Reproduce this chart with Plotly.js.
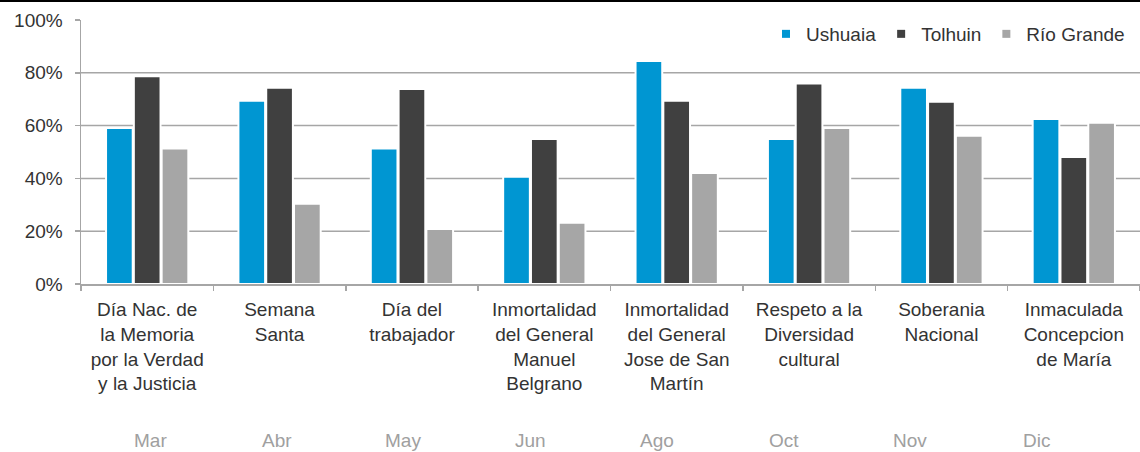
<!DOCTYPE html>
<html><head><meta charset="utf-8">
<script src="https://cdn.plot.ly/plotly-3.0.1.min.js"></script>
<style>
html,body{margin:0;padding:0;background:#fff;}
#topline{position:absolute;left:0;top:0;width:1140px;height:2px;background:#000;z-index:10;}
#chart{width:1140px;height:452px;}
</style>
</head><body>
<div id="topline"></div>
<div id="chart"></div>
<script>
const categories = [
  'Día Nac. de<br>la Memoria<br>por la Verdad<br>y la Justicia',
  'Semana<br>Santa',
  'Día del<br>trabajador',
  'Inmortalidad<br>del General<br>Manuel<br>Belgrano',
  'Inmortalidad<br>del General<br>Jose de San<br>Martín',
  'Respeto a la<br>Diversidad<br>cultural',
  'Soberania<br>Nacional',
  'Inmaculada<br>Concepcion<br>de María'
];
const months = ['Mar','Abr','May','Jun','Ago','Oct','Nov','Dic'];
const seriesNames = ['Ushuaia','Tolhuin','Río Grande'];
const ushuaia   = [0.591,0.694,0.513,0.406,0.845,0.549,0.743,0.625];
const tolhuin   = [0.787,0.743,0.739,0.549,0.694,0.759,0.690,0.481];
const rioGrande = [0.513,0.304,0.208,0.232,0.420,0.591,0.562,0.611];
const yTickVals   = [0,0.2,0.4,0.6,0.8,1.0];
const yTickLabels = ['0%','20%','40%','60%','80%','100%'];
const gridVals    = [0.2,0.4,0.6,0.8];

const colors = ['#0096D2','#404040','#A6A6A6'];
const values = [ushuaia, tolhuin, rioGrande];
const FONT = 'Liberation Sans, Arial, Helvetica, sans-serif';

const traces = [];
values.forEach((v,i)=>{
  traces.push({
    type:'bar', x:categories, y:v, name:seriesNames[i],
    marker:{color:colors[i], line:{color:'#ffffff', width:2}},
    showlegend:false, hoverinfo:'y'
  });
});
values.forEach((v,i)=>{
  traces.push({
    type:'scatter', mode:'markers', x:[null], y:[null], name:seriesNames[i],
    marker:{symbol:'square', size:8, color:colors[i]},
    showlegend:true, hoverinfo:'skip'
  });
});

const L = 81, W = 1140, H = 452, T = 20, B = 168;
const plotW = W - L, plotH = H - T - B;
const monthStart = 150, monthStep = 126.7, monthY = 440;

const annotations = months.map((m,i)=>({
  text:m, xref:'paper', yref:'paper',
  x:(monthStart + monthStep*i - L)/plotW,
  y:(H - B - monthY)/plotH,
  xanchor:'center', yanchor:'middle', showarrow:false,
  font:{family:FONT, size:19, color:'#a0a0a0'}
}));

const shapes = gridVals.map(v=>({
  type:'line', xref:'paper', x0:0, x1:1, yref:'y', y0:v, y1:v,
  line:{color:'#a6a6a6', width:1.5}, layer:'below'
}));

const layout = {
  width:W, height:H,
  margin:{l:L, r:0, t:T, b:B, pad:0},
  paper_bgcolor:'#fff', plot_bgcolor:'#fff',
  barmode:'group', bargap:0.37, bargroupgap:0.04,
  font:{family:FONT, size:19, color:'#333'},
  xaxis:{
    type:'category', tickson:'boundaries', ticks:'outside', ticklen:5,
    tickcolor:'#a6a6a6', tickwidth:1.5, showline:true, linecolor:'#a6a6a6', linewidth:1.5,
    showgrid:false, zeroline:false, tickangle:0, automargin:false,
    tickfont:{family:FONT, size:19, color:'#333'}, ticklabelstandoff:8
  },
  yaxis:{
    range:[0,1], tickvals:yTickVals, ticktext:yTickLabels,
    ticks:'outside', ticklen:5, tickcolor:'#a6a6a6', tickwidth:1.5,
    showline:true, linecolor:'#a6a6a6', linewidth:1.5, showgrid:false, zeroline:false,
    automargin:false, fixedrange:true,
    tickfont:{family:FONT, size:19, color:'#333'}, ticklabelstandoff:8
  },
  legend:{
    orientation:'h', x:1 - 10/plotW, xanchor:'right', y:(H - B - 34)/plotH, yanchor:'middle',
    font:{family:FONT, size:19, color:'#333'}, bgcolor:'rgba(0,0,0,0)', itemwidth:30
  },
  shapes:shapes, annotations:annotations, showlegend:true
};

Plotly.newPlot('chart', traces, layout, {displayModeBar:false, staticPlot:true});
</script>
</body></html>
